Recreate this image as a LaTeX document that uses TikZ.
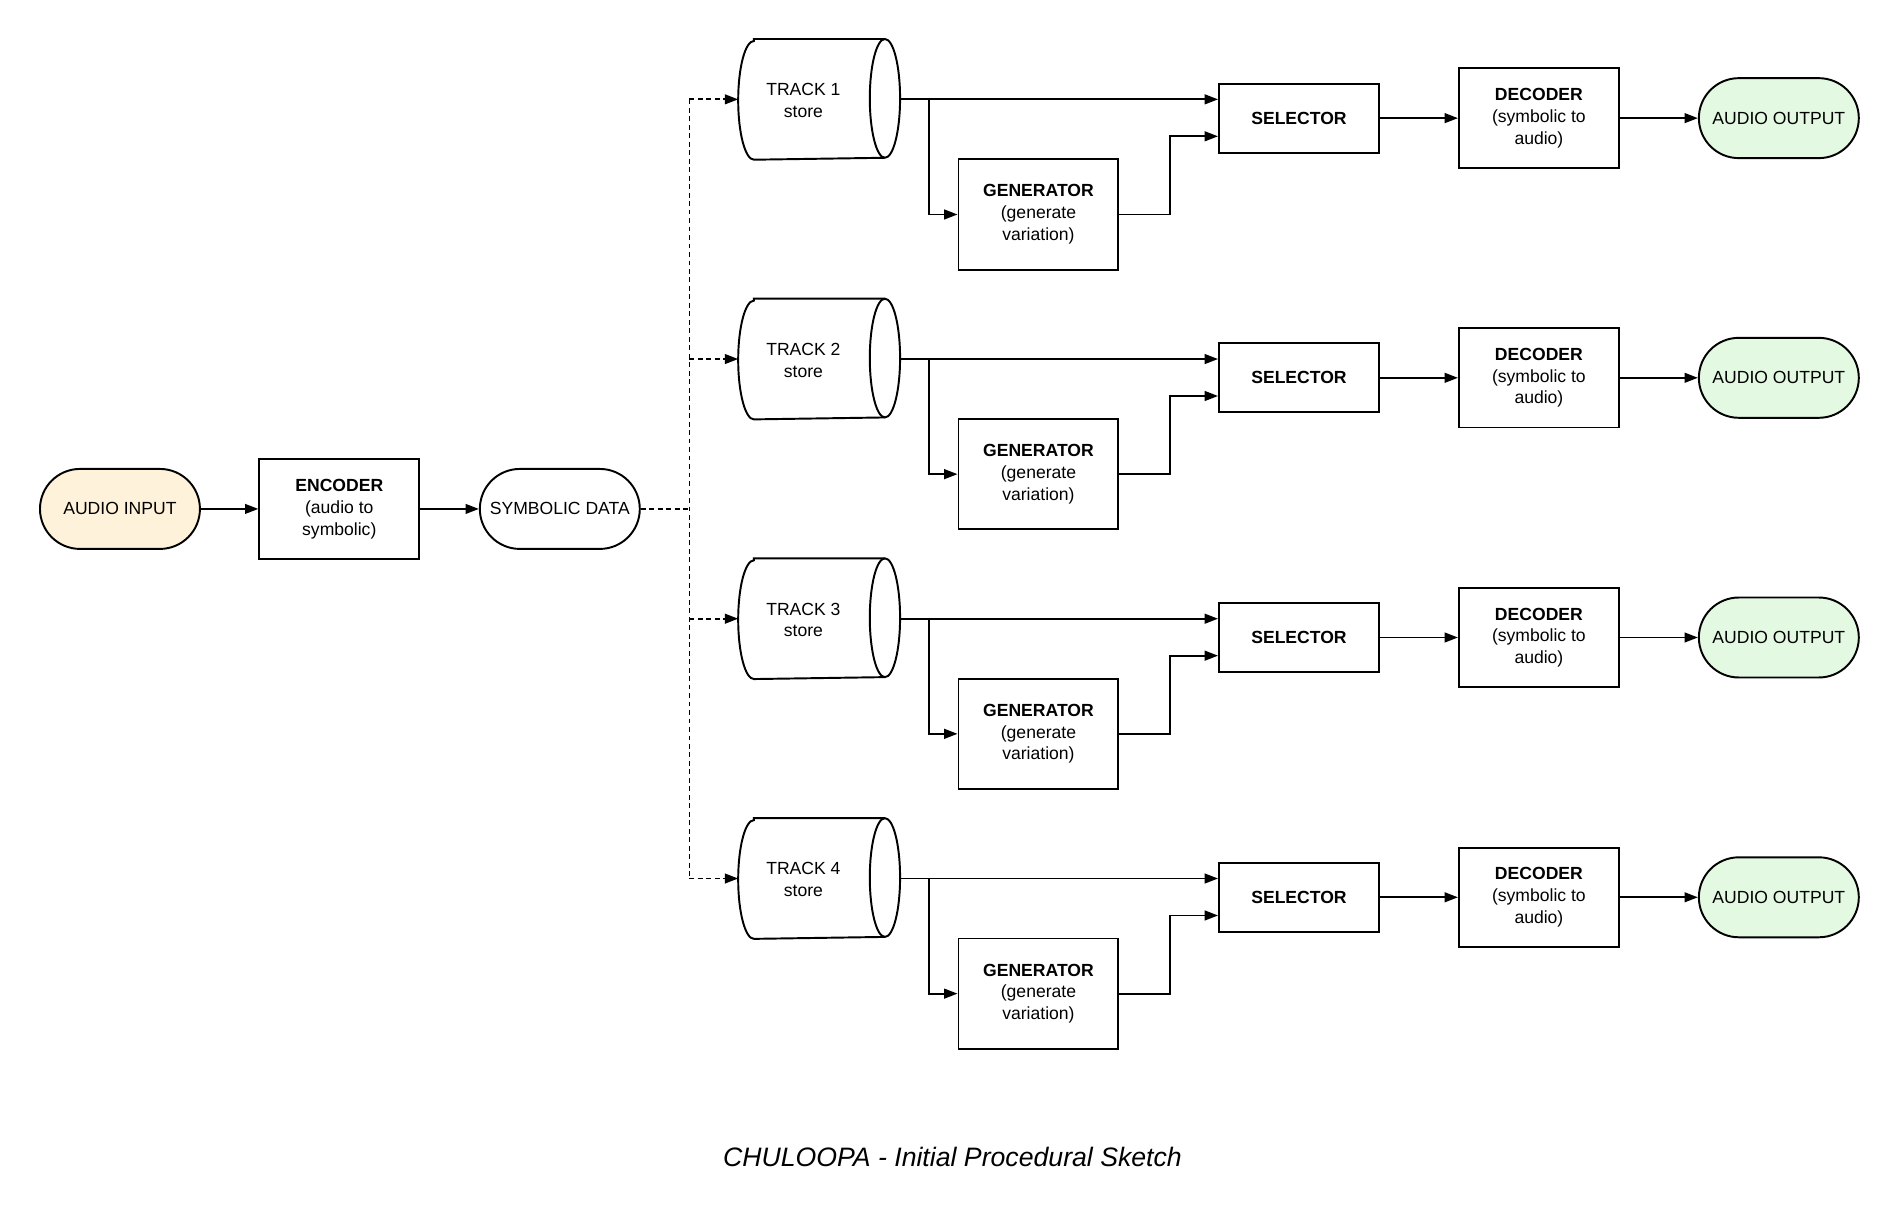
\documentclass[tikz,border=0pt]{standalone}
\usepackage{fontspec}
\setmainfont{Liberation Sans}
\usetikzlibrary{arrows.meta,calc}
\definecolor{infill}{HTML}{FEF2DA}
\definecolor{outfill}{HTML}{E3F9E1}
\begin{document}
\begin{tikzpicture}[x=1pt,y=1pt, line width=1.6pt,
  font=\fontsize{14.5}{18}\selectfont,
  stadium/.style={draw, rounded corners=33, minimum width=132, minimum height=66, align=center, inner sep=0},
  procbox/.style={draw, minimum width=132, minimum height=82, align=center, inner sep=0},
  genbox/.style={draw, minimum width=132, minimum height=91, align=center, inner sep=0},
  selbox/.style={draw, minimum width=132, minimum height=57, align=center, inner sep=0},
  trackbody/.style={minimum width=132, minimum height=98, inner sep=0},
  tracktext/.style={align=center, inner sep=0},
  arr/.style={-{Triangle[length=11pt,width=8pt]}},
  dsh/.style={dash pattern=on 4pt off 3pt}]
\useasboundingbox (0,0) rectangle (1568,-1008.5);

\node[stadium, fill=infill] (ain) at (99,-420) {AUDIO INPUT};
\node[procbox] (enc) at (280,-420) {\textbf{ENCODER}\\(audio to\\symbolic)};
\node[stadium] (sym) at (462,-420) {SYMBOLIC DATA};
\draw[arr] (ain) -- (enc);
\draw[arr] (enc) -- (sym);
\coordinate (split) at (569,-420);
\coordinate (btop) at (569,-82);
\coordinate (bbot) at (569,-725);
\draw[dsh] (sym.east) -- (split);
\draw[dsh] (btop) -- (bbot);

\foreach \i/\T in {1/82,2/296.3,3/510.6,4/725}{
  \node[trackbody] (t\i) at (676,{-\T}) {};
  \draw ($(t\i.north west)+(13,0)$) -- ($(t\i.north east)+(-12.5,0)$)
        arc[start angle=90,end angle=-90,x radius=12.5,y radius=49]
        -- ($(t\i.south west)+(13,0)$)
        arc[start angle=270,end angle=90,x radius=13,y radius=49] -- cycle;
  \draw ($(t\i.north east)+(-12.5,0)$) arc[start angle=90,end angle=270,x radius=12.5,y radius=49];
  \node[tracktext] (tt\i) at ($(t\i.center)+(-13,-1)$) {TRACK \i\\store};
  \draw[dsh,arr] (btop |- t\i.west) -- (t\i.west);

  \node[genbox] (g\i) at (857,{-\T-95}) {\textbf{GENERATOR}\\(generate\\variation)};
  \node[selbox] (s\i) at (1072,{-\T-15.5}) {\textbf{SELECTOR}};
  \node[procbox] (d\i) at (1270,{-\T-15.5}) {\textbf{DECODER}\\(symbolic to\\audio)};
  \node[stadium, fill=outfill] (o\i) at (1468,{-\T-15.5}) {AUDIO OUTPUT};

  \coordinate (b\i) at (767,{-\T});
  \draw[arr] (t\i.east) -- (t\i.east -| s\i.west);
  \draw[arr] (b\i) |- (g\i.west);
  \draw[arr] (g\i.east) -- ++(42,0) |- ($(s\i.west)+(0,-15)$);
  \draw[arr] (s\i) -- (d\i);
  \draw[arr] (d\i) -- (o\i);
}

\node (cap) at (786,-955) {\fontsize{22}{26}\selectfont\itshape CHULOOPA - Initial Procedural Sketch};
\end{tikzpicture}
\end{document}
